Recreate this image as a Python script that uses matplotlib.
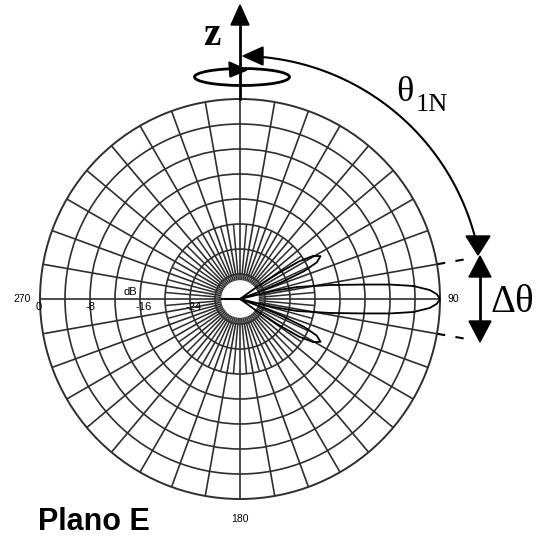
import numpy as np
import matplotlib
matplotlib.use('Agg')
import matplotlib.pyplot as plt
from matplotlib.patches import Ellipse, Polygon
from matplotlib.transforms import offset_copy

# E-plane pattern: angle from the z axis (deg) and relative level (dB)
theta_deg = [52, 54.5, 56, 57.5, 59.5, 62, 64.5, 66.5, 68, 69.5, 72,
             74, 76.4, 78.1, 81.2, 83.3, 84.5, 85.7, 87.3, 88.6, 90,
             91.4, 92.7, 94.3, 95.5, 96.7, 98.8, 101.9, 103.6, 106,
             108, 110.5, 112, 113.5, 115.5, 118, 120.5, 122.5, 124, 125.5, 128]
level_db = [-32, -28.8, -24.8, -20.8, -18.4, -17.4, -18.4, -20.8, -24.8, -28.8, -32,
            -32, -26.6, -22.7, -17.4, -12.2, -7.9, -4.2, -1.6, -0.5, 0,
            -0.5, -1.6, -4.2, -7.9, -12.2, -17.4, -22.7, -26.6, -32,
            -32, -28.8, -24.8, -20.8, -18.4, -17.4, -18.4, -20.8, -24.8, -28.8, -32]

ring_db = [-28, -24, -20, -16, -12, -8, -4]
scale_db = [0, -8, -16, -24]
scale_labels = ['0', '-8', '-16', '-24']
dir_deg = [270, 90, 180]
dir_labels = ['270', '90', '180']

W, H = 537, 536
cx, cy, R = 240, 299, 200
grid_c = '#2e2e2e'

fig = plt.figure(figsize=(W / 100, H / 100), dpi=100)
ax = fig.add_axes([(cx - R) / W, (H - cy - R) / H, 2 * R / W, 2 * R / H],
                  projection='polar')
ax.set_theta_zero_location('N')
ax.set_theta_direction(-1)
ax.set_rlim(-32, 0)
ax.set_thetagrids(np.arange(0, 360, 10))
ax.set_rgrids(ring_db)
ax.set_xticklabels([])
ax.set_yticklabels([])
ax.set_axisbelow(True)
ax.grid(True, color=grid_c, lw=1.2)
ax.spines['polar'].set_color(grid_c)
ax.spines['polar'].set_linewidth(1.4)

# extra 5 degree spokes near the centre
ax.vlines(np.deg2rad(np.arange(5, 360, 10)), -32, -20, colors=grid_c, lw=1.1, zorder=0.8)

# white hub
t = np.linspace(0, 2 * np.pi, 120)
ax.fill(t, np.full_like(t, -29.1), color='white', zorder=1)
ax.plot([np.deg2rad(270)] * 2, [-29.1, -32], color='black', lw=1.5, zorder=2)

# pattern
ax.plot(np.deg2rad(theta_deg), level_db, color='black', lw=1.3, zorder=3, clip_on=False)

# dashed beam edges at 80 and 100 degrees
for a in (80, 100):
    ax.plot([np.deg2rad(a)] * 2, [0, 5.2], color='black', lw=1.5,
            ls=(0, (4, 5)), clip_on=False)

# scale labels along the 270 spoke
down = offset_copy(ax.transData, fig=fig, x=-4, y=-8, units='dots')
for v, s in zip(scale_db, scale_labels):
    ax.text(np.deg2rad(270), v, s, transform=down, ha='left', va='center',
            fontsize=8, family='Liberation Sans')
up = offset_copy(ax.transData, fig=fig, x=0, y=7, units='dots')
ax.text(np.deg2rad(270), -14.4, 'dB', transform=up, ha='center', va='center',
        fontsize=8, family='Liberation Sans')
for a, s, r in zip(dir_deg, dir_labels, [2.9, 2.1, 3.2]):
    ax.text(np.deg2rad(a), r, s, ha='center', va='center', fontsize=7.5,
            family='Liberation Sans')

# annotations in pixel space
ov = fig.add_axes([0, 0, 1, 1])
ov.set_xlim(0, W)
ov.set_ylim(H, 0)
ov.axis('off')
ov.patch.set_alpha(0)

# z axis with arrow and rotation ellipse
ov.plot([cx, cx], [cy - R, 22], color='black', lw=2)
ov.add_patch(Polygon([[cx, 5], [cx - 9, 25], [cx + 9, 25]], color='black'))
ov.add_patch(Ellipse((242, 77), 95, 17, fill=False, ec='black', lw=2))
ov.add_patch(Polygon([[247, 70], [229, 62], [230, 77]], color='black'))
ov.text(212, 45, 'z', fontsize=28, fontweight='bold', family='Liberation Serif',
        ha='center', va='baseline')

# theta_1N arc from z to the first null
Ra = 243
arc = np.deg2rad(np.linspace(5, 76, 60))
ov.plot(cx + Ra * np.sin(arc), cy - Ra * np.cos(arc), color='black', lw=1.5)
ov.add_patch(Polygon([[243, 56], [263, 47], [263, 65]], color='black'))
ov.add_patch(Polygon([[478, 255], [466, 236], [490, 236]], color='black'))
ov.text(396, 101, '\u03b8', fontsize=26, family='Liberation Serif', va='baseline')
ov.text(416, 111, '1N', fontsize=19, family='Liberation Serif', va='baseline')

# delta theta double arrow
ov.plot([480, 480], [274, 323], color='black', lw=2)
ov.add_patch(Polygon([[480, 256], [469, 277], [491, 277]], color='black'))
ov.add_patch(Polygon([[480, 342], [469, 321], [491, 321]], color='black'))
ov.text(491, 312, '\u0394\u03b8', fontsize=28, family='Liberation Serif', va='baseline')

ov.text(38, 530, 'Plano E', fontsize=22, fontweight='bold', family='Liberation Sans',
        va='baseline')

fig.savefig('out.png', dpi=100)
